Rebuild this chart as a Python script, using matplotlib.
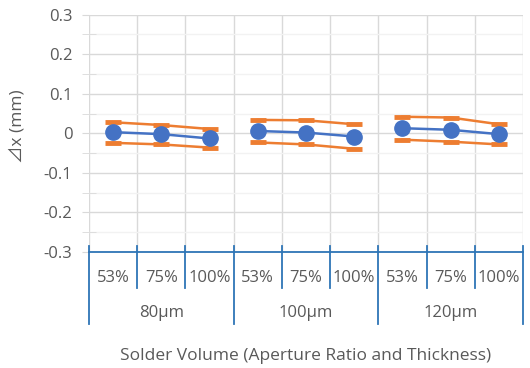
import matplotlib
matplotlib.use("Agg")
import matplotlib.pyplot as plt
import matplotlib.transforms as mtransforms
import numpy as np

plt.rcParams['font.family'] = ['Open Sans', 'DejaVu Sans']

# Solder volume categories: aperture ratio within stencil thickness
ratios = ["53%", "75%", "100%"]
thicknesses = ["80µm", "100µm", "120µm"]

# Mean displacement and spread bounds (mm)
mean_dx = [0.003, -0.002, -0.013, 0.006, 0.002, -0.008, 0.013, 0.009, -0.002]
upper_dx = [0.028, 0.021, 0.011, 0.034, 0.033, 0.023, 0.042, 0.040, 0.023]
lower_dx = [-0.024, -0.028, -0.036, -0.023, -0.028, -0.039, -0.016, -0.021, -0.028]

blue = "#4472C4"
orange = "#ED7D31"
axis_blue = "#2E75B6"
text_gray = "#595959"

fig = plt.figure(figsize=(5.30, 3.68), dpi=100)
ax = fig.add_axes([89 / 530, 1 - 252 / 368, (523 - 89) / 530, (252 - 14.7) / 368])

x = np.arange(len(mean_dx))
n_groups = len(thicknesses)
n_per = len(ratios)

# Spread bounds and means, one line per thickness group
for g in range(n_groups):
    sl = slice(g * n_per, (g + 1) * n_per)
    for vals in (upper_dx, lower_dx):
        ax.plot(x[sl], np.array(vals)[sl], color=orange, lw=1.8,
                marker="_", ms=11, mew=3.5, zorder=3)
    ax.plot(x[sl], np.array(mean_dx)[sl], color=blue, lw=1.8,
            marker="o", ms=11, zorder=4)

ax.set_xlim(-0.5, len(mean_dx) - 0.5)
ax.set_ylim(-0.3, 0.3)

# Gridlines
ax.set_yticks(np.round(np.arange(-0.3, 0.31, 0.1), 2))
ax.set_yticks(np.round(np.arange(-0.25, 0.3, 0.1), 3), minor=True)
ax.set_yticklabels(["-0.3", "-0.2", "-0.1", "0", "0.1", "0.2", "0.3"])
ax.set_xticks(np.arange(-0.5, len(mean_dx), 1.0), minor=True)
ax.set_xticks([])
ax.grid(axis="y", which="major", color="#D9D9D9", lw=1.0, zorder=0)
ax.grid(axis="y", which="minor", color="#F2F2F2", lw=1.0, zorder=0)
ax.grid(axis="x", which="minor", color="#D9D9D9", lw=1.0, zorder=0)
ax.tick_params(axis="y", which="major", length=5, color="#D9D9D9",
               labelsize=12, labelcolor=text_gray, pad=7)
ax.tick_params(axis="y", which="minor", length=10, direction="inout",
               color="#D9D9D9")
ax.tick_params(axis="x", which="minor", length=0)
ax.tick_params(axis="x", which="major", length=0)

for side in ("left", "right", "top"):
    ax.spines[side].set_visible(False)
ax.spines["bottom"].set_color(axis_blue)
ax.spines["bottom"].set_linewidth(1.3)

# Two-level category axis
trans = mtransforms.blended_transform_factory(ax.transData, ax.transAxes)
h = 252 - 14.7
top_off = 6 / h
inner_bot = -36 / h
outer_bot = -72 / h
for b in np.arange(-0.5, len(mean_dx), 1.0):
    k = int(round(b + 0.5))
    bot = outer_bot if k % n_per == 0 else inner_bot
    ax.plot([b, b], [top_off, bot], transform=trans, color=axis_blue,
            lw=1.3, clip_on=False, zorder=5)

for i in range(len(mean_dx)):
    ax.text(x[i], -26 / h, ratios[i % n_per], transform=trans,
            ha="center", va="center", fontsize=12, color=text_gray)
for g in range(n_groups):
    ax.text(g * n_per + (n_per - 1) / 2, -61 / h, thicknesses[g],
            transform=trans, ha="center", va="center", fontsize=12,
            color=text_gray)

fig.text(306 / 530, 1 - 356 / 368, "Solder Volume (Aperture Ratio and Thickness)",
         ha="center", va="center", fontsize=12.5, color=text_gray)
fig.text(17 / 530, 1 - 126 / 368, "⊿x (mm)", rotation=90,
         ha="center", va="center", fontsize=12.5, color=text_gray,
         family=["Open Sans", "Noto Sans CJK JP", "DejaVu Sans"])

fig.savefig("out.png", dpi=100)
